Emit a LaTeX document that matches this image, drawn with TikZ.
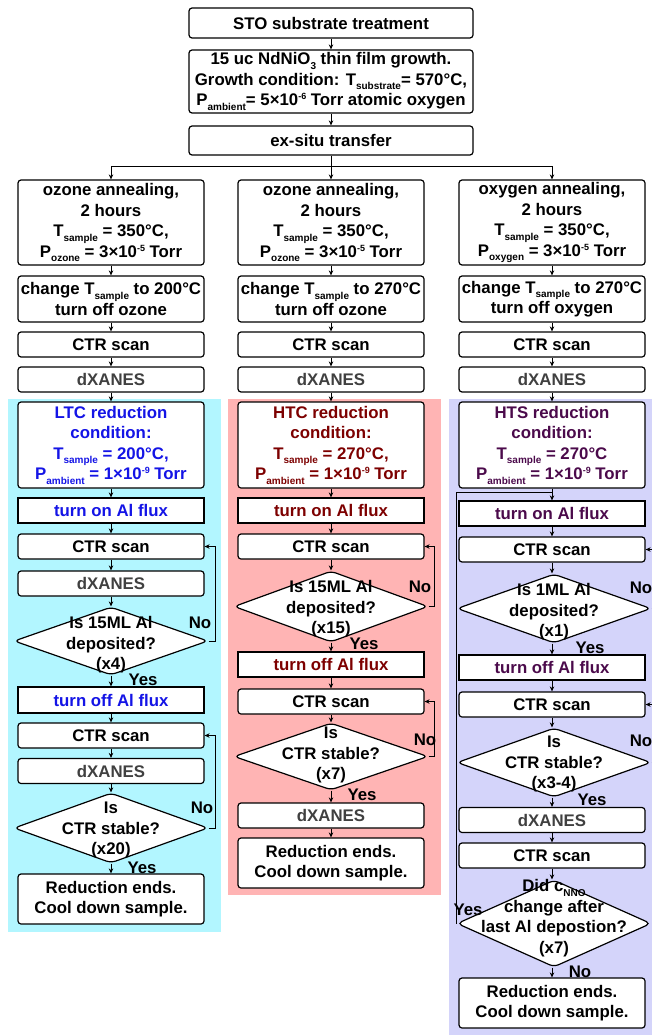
\documentclass[tikz,border=0pt]{standalone}
\usepackage{fontspec}
\setmainfont{Liberation Sans}
\usetikzlibrary{arrows.meta,shapes.geometric}
\definecolor{cyanbg}{RGB}{178,246,255}
\definecolor{pinkbg}{RGB}{255,180,180}
\definecolor{lavbg}{RGB}{212,212,250}
\definecolor{ltc}{RGB}{20,20,230}
\definecolor{htc}{RGB}{125,0,0}
\definecolor{hts}{RGB}{75,10,75}
\definecolor{dxg}{RGB}{64,64,64}
\newcommand{\sbx}[1]{\raisebox{-4.5pt}{\fontsize{10}{10}\selectfont #1}}
\newcommand{\spx}[1]{\raisebox{6pt}{\fontsize{9}{9}\selectfont #1}}
\begin{document}
\begin{tikzpicture}[x=1pt,y=-1pt,
  font=\bfseries\fontsize{16.8}{20.5}\selectfont,
  box/.style={draw=black, line width=1.2pt, fill=white, rounded corners=3pt, align=center, inner sep=1pt, minimum width=186pt},
  sbox/.style={box, sharp corners},
  dia/.style={diamond, draw=black, line width=1.2pt, fill=white, rounded corners=5pt, inner sep=0pt, minimum width=194pt},
  dtext/.style={align=center, inner sep=0pt},
  arr/.style={-{Stealth[length=5pt,width=4.5pt]}, line width=0.8pt},
  ln/.style={line width=0.8pt},
  lbl/.style={inner sep=0pt}]
\clip (0,0) rectangle (652,1035);
% backgrounds
\fill[cyanbg] (8,399) rectangle (221,932);
\fill[pinkbg] (228,399) rectangle (441,895);
\fill[lavbg] (449,399) rectangle (660,1040);
% top
\node[box, minimum width=284pt, minimum height=30pt] (sto) at (331,23) {STO substrate treatment};
\node[box, minimum width=284pt, minimum height=63pt] (grow) at (331,81.5) {15 uc NdNiO\sbx{3} thin film growth.\\Growth condition: T\sbx{substrate}= 570°C,\\P\sbx{ambient}= 5×10\spx{-6} Torr atomic oxygen};
\node[box, minimum width=284pt, minimum height=29pt] (exs) at (331,140.5) {ex-situ transfer};
\draw[arr] (sto) -- (grow);
\draw[arr] (grow) -- (exs);
% ---------- column 1
\node[box,minimum height=85pt] (a1) at (111,222.5) {ozone annealing,\\2 hours\\T\sbx{sample} = 350°C,\\P\sbx{ozone} = 3×10\spx{-5} Torr};
\node[box,minimum height=46pt] (b1) at (111,299) {change T\sbx{sample} to 200°C\\turn off ozone};
\node[box,minimum height=25pt] (c1) at (111,344.5) {CTR scan};
\node[box,minimum height=25pt,text=dxg] (e1) at (111,379.5) {dXANES};
\node[box,minimum height=86pt,text=ltc] (r1) at (111,445) {LTC reduction\\condition:\\T\sbx{sample} = 200°C,\\P\sbx{ambient} = 1×10\spx{-9} Torr};
\node[sbox,minimum height=25pt,text=ltc] (f1) at (111,510.5) {turn on Al flux};
\node[box,minimum height=25pt] (g1) at (111,546.5) {CTR scan};
\node[box,minimum height=25pt,text=dxg] (h1) at (111,583.5) {dXANES};
\node[dia,minimum height=68pt] (i1) at (111,641) {};
\node[dtext] (i1t) at (111,645) {Is 15ML Al\\deposited?\\(x4)};
\node[sbox,minimum height=26pt,text=ltc] (j1) at (111,700) {turn off Al flux};
\node[box,minimum height=25pt] (k1) at (111,735.5) {CTR scan};
\node[box,minimum height=25pt,text=dxg] (l1) at (111,771) {dXANES};
\node[dia,minimum height=70pt] (m1) at (111,828) {};
\node[dtext] (m1t) at (111,830) {Is\\CTR stable?\\(x20)};
\node[box,minimum height=50pt] (n1) at (111,899) {Reduction ends.\\Cool down sample.};
\node[lbl] (no11) at (200,623) {No};
\node[lbl] (ye11) at (143,680) {Yes};
\node[lbl] (no12) at (202,808) {No};
\node[lbl] (ye12) at (142,868) {Yes};
% ---------- column 2
\node[box,minimum height=85pt] (a2) at (331,222.5) {ozone annealing,\\2 hours\\T\sbx{sample} = 350°C,\\P\sbx{ozone} = 3×10\spx{-5} Torr};
\node[box,minimum height=46pt] (b2) at (331,299) {change T\sbx{sample} to 270°C\\turn off ozone};
\node[box,minimum height=25pt] (c2) at (331,344.5) {CTR scan};
\node[box,minimum height=25pt,text=dxg] (e2) at (331,379.5) {dXANES};
\node[box,minimum height=86pt,text=htc] (r2) at (331,445) {HTC reduction\\condition:\\T\sbx{sample} = 270°C,\\P\sbx{ambient} = 1×10\spx{-9} Torr};
\node[sbox,minimum height=25pt,text=htc] (f2) at (331,510.5) {turn on Al flux};
\node[box,minimum height=25pt] (g2) at (331,546.5) {CTR scan};
\node[dia,minimum height=71pt] (i2) at (331,606.5) {};
\node[dtext] (i2t) at (331,609) {Is 15ML Al\\deposited?\\(x15)};
\node[sbox,minimum height=25pt,text=htc] (j2) at (331,664.5) {turn off Al flux};
\node[box,minimum height=25pt] (k2) at (331,701.5) {CTR scan};
\node[dia,minimum height=67pt] (m2) at (331,756.5) {};
\node[dtext] (m2t) at (331,755) {Is\\CTR stable?\\(x7)};
\node[box,minimum height=25pt,text=dxg] (l2) at (331,815.5) {dXANES};
\node[box,minimum height=50pt] (n2) at (331,863) {Reduction ends.\\Cool down sample.};
\node[lbl] (no21) at (420,587) {No};
\node[lbl] (ye21) at (364,644) {Yes};
\node[lbl] (no22) at (425,740) {No};
\node[lbl] (ye22) at (362,795) {Yes};
% ---------- column 3
\node[box,minimum height=85pt] (a3) at (552,222.5) {oxygen annealing,\\2 hours\\T\sbx{sample} = 350°C,\\P\sbx{oxygen} = 3×10\spx{-5} Torr};
\node[box,minimum height=46pt] (b3) at (552,299) {change T\sbx{sample} to 270°C\\turn off oxygen};
\node[box,minimum height=25pt] (c3) at (552,344.5) {CTR scan};
\node[box,minimum height=25pt,text=dxg] (e3) at (552,379.5) {dXANES};
\node[box,minimum height=86pt,text=hts] (r3) at (552,445) {HTS reduction\\condition:\\T\sbx{sample} = 270°C\\P\sbx{ambient} = 1×10\spx{-9} Torr};
\node[sbox,minimum height=25pt,text=hts] (f3) at (552,513.5) {turn on Al flux};
\node[box,minimum height=25pt] (g3) at (552,549.5) {CTR scan};
\node[dia,minimum height=69pt] (i3) at (554,608.5) {};
\node[dtext] (i3t) at (554,612) {Is 1ML Al\\deposited?\\(x1)};
\node[sbox,minimum height=25pt,text=hts] (j3) at (552,667.5) {turn off Al flux};
\node[box,minimum height=25pt] (k3) at (552,704.5) {CTR scan};
\node[dia,minimum height=69pt] (m3) at (554,762.5) {};
\node[dtext] (m3t) at (554,764) {Is\\CTR stable?\\(x3-4)};
\node[box,minimum height=25pt,text=dxg] (l3) at (552,820) {dXANES};
\node[box,minimum height=25pt] (o3) at (552,855.5) {CTR scan};
\node[dia,minimum height=87pt] (p3) at (554,923.5) {};
\node[dtext] (p3t) at (554,918) {Did c\sbx{NNO}\\change after\\last Al depostion?\\(x7)};
\node[box,minimum height=50pt] (q3) at (552,1003) {Reduction ends.\\Cool down sample.};
\node[lbl] (no31) at (641,588) {No};
\node[lbl] (ye31) at (590,648) {Yes};
\node[lbl] (no32) at (641,741) {No};
\node[lbl] (ye32) at (592,800) {Yes};
\node[lbl] (ye33) at (468,910) {Yes};
\node[lbl] (no33) at (580,972) {No};
% ---------- branch
\coordinate (br) at (331,166);
\draw[ln] (exs.south) -- (br);
\draw[arr] (br) -| (a1.north);
\draw[arr] (br) -- (a2.north);
\draw[arr] (br) -| (a3.north);
% ---------- column 1 arrows
\draw[arr] (a1) -- (b1);
\draw[arr] (b1) -- (c1);
\draw[arr] (c1) -- (e1);
\draw[arr] (e1) -- (r1);
\draw[arr] (r1) -- (f1);
\draw[arr] (f1) -- (g1);
\draw[arr] (g1) -- (h1);
\draw[arr] (h1.south) -- (i1.north);
\draw[arr] (i1.south) -- (j1.north);
\draw[arr] (j1) -- (k1);
\draw[arr] (k1) -- (l1);
\draw[arr] (l1.south) -- (m1.north);
\draw[arr] (m1.south) -- (n1.north);
\draw[arr] (i1.east) -- ++(7,0) |- (g1.east);
\draw[arr] (m1.east) -- ++(7,0) |- (k1.east);
% ---------- column 2 arrows
\draw[arr] (a2) -- (b2);
\draw[arr] (b2) -- (c2);
\draw[arr] (c2) -- (e2);
\draw[arr] (e2) -- (r2);
\draw[arr] (r2) -- (f2);
\draw[arr] (f2) -- (g2);
\draw[arr] (g2.south) -- (i2.north);
\draw[arr] (i2.south) -- (j2.north);
\draw[arr] (j2) -- (k2);
\draw[arr] (k2.south) -- (m2.north);
\draw[arr] (m2.south) -- (l2.north);
\draw[arr] (l2) -- (n2);
\draw[arr] (i2.east) -- ++(6,0) |- (g2.east);
\draw[arr] (m2.east) -- ++(6,0) |- (k2.east);
% ---------- column 3 arrows
\coordinate (j3top) at (552,492);
\coordinate (lp3) at (456,492);
\draw[arr] (a3) -- (b3);
\draw[arr] (b3) -- (c3);
\draw[arr] (c3) -- (e3);
\draw[arr] (e3) -- (r3);
\draw[arr] (r3) -- (f3);
\draw[arr] (f3) -- (g3);
\draw[arr] (g3.south) -- (g3.south |- i3.north);
\draw[arr] (j3.north |- i3.south) -- (j3.north);
\draw[arr] (j3) -- (k3);
\draw[arr] (k3.south) -- (k3.south |- m3.north);
\draw[arr] (l3.north |- m3.south) -- (l3.north);
\draw[arr] (l3) -- (o3);
\draw[arr] (o3.south) -- (o3.south |- p3.north);
\draw[arr] (q3.north |- p3.south) -- (q3.north);
\draw[arr] (i3.east) -- ++(6,0) |- (g3.east);
\draw[arr] (m3.east) -- ++(6,0) |- (k3.east);
\draw[ln] (p3.west) -| (lp3) -- (j3top);
\end{tikzpicture}
\end{document}
